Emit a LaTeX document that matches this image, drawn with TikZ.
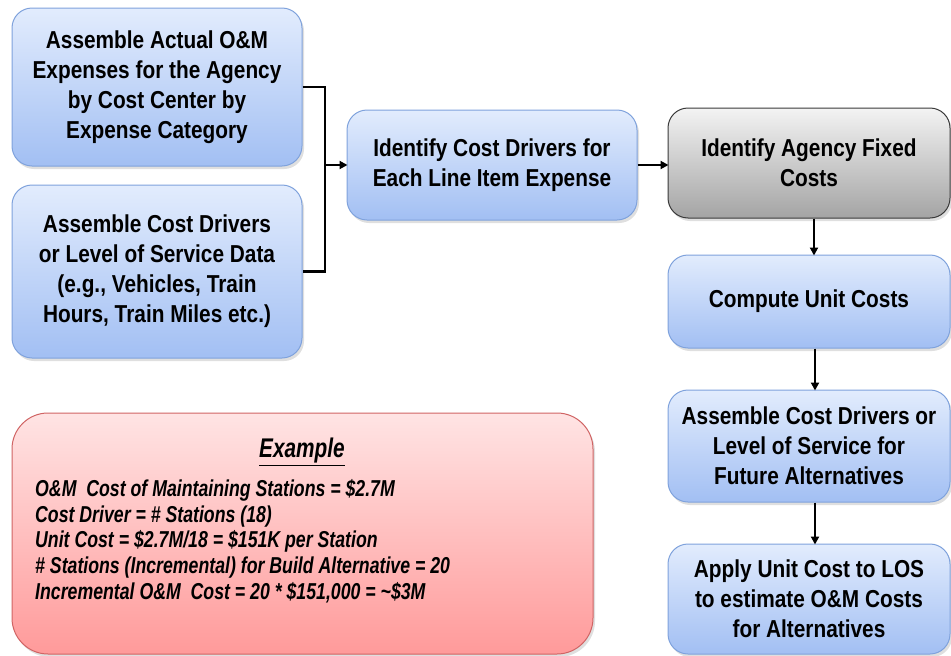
\documentclass[tikz,border=0pt]{standalone}
\usepackage{fontspec}
\setmainfont[FakeStretch=0.85]{Liberation Sans}
\newfontfamily\examplefont[FakeStretch=0.77]{Liberation Sans}
\usetikzlibrary{shadows,arrows.meta}
\definecolor{bluetop}{HTML}{E2ECFD}
\definecolor{bluebot}{HTML}{A2BFF3}
\definecolor{blueline}{HTML}{7FA2DC}
\definecolor{graytop}{HTML}{F3F3F3}
\definecolor{graybot}{HTML}{A4A4A4}
\definecolor{grayline}{HTML}{3A3A3A}
\definecolor{redtop}{HTML}{FFE4E4}
\definecolor{redbot}{HTML}{FF9A9A}
\definecolor{redline}{HTML}{D06464}
\tikzset{
  box/.style={rectangle, rounded corners=20pt, line width=1pt, align=center,
    font=\bfseries\fontsize{24.5}{30}\selectfont, inner sep=0pt,
    drop shadow={opacity=0.25, shadow xshift=2pt, shadow yshift=-3pt}},
  bluebox/.style={box, draw=blueline, top color=bluetop, bottom color=bluebot},
  graybox/.style={box, draw=grayline, top color=graytop, bottom color=graybot},
  redbox/.style={rectangle, rounded corners=36pt, line width=1pt, draw=redline,
    top color=redtop, bottom color=redbot, inner sep=0pt,
    drop shadow={opacity=0.25, shadow xshift=2pt, shadow yshift=-3pt}},
  extext/.style={font=\examplefont\bfseries\itshape\fontsize{23}{25.8}\selectfont, inner sep=0pt},
  conn/.style={line width=2.6pt, black},
  arr/.style={conn, -{Triangle[length=8pt,width=8pt]}, shorten >=-1pt},
}
\begin{document}
\begin{tikzpicture}[x=1pt,y=-1pt]
\useasboundingbox (0,0) rectangle (951,656);

% input steps
\node[bluebox, minimum width=290pt, minimum height=158pt] (A) at (157,87)
  {Assemble Actual O\&M\\Expenses for the Agency\\by Cost Center by\\Expense Category};
\node[bluebox, minimum width=290pt, minimum height=173pt] (B) at (157,271.5)
  {Assemble Cost Drivers\\or Level of Service Data\\(e.g., Vehicles, Train\\Hours, Train Miles etc.)};

% cost driver identification
\node[bluebox, minimum width=290pt, minimum height=110pt] (C) at (492,165)
  {Identify Cost Drivers for\\Each Line Item Expense};

% right-hand column
\node[graybox, minimum width=282pt, minimum height=110pt] (D) at (809,163)
  {Identify Agency Fixed\\Costs};
\node[bluebox, minimum width=282pt, minimum height=93pt] (E) at (809,301.5)
  {Compute Unit Costs};
\node[bluebox, minimum width=282pt, minimum height=112pt] (F) at (809,446)
  {Assemble Cost Drivers or\\Level of Service for\\Future Alternatives};
\node[bluebox, minimum width=282pt, minimum height=110pt] (G) at (809,599)
  {Apply Unit Cost to LOS\\to estimate O\&M Costs\\for Alternatives};

% worked example
\node[redbox, minimum width=581pt, minimum height=241pt] (R) at (302.5,533.5) {};
\node[extext, font=\examplefont\bfseries\itshape\fontsize{27}{30}\selectfont] (RT) at (302,452) {\underline{Example}};
\node[extext, align=left, anchor=north west] (RB) at (35,479)
  {O\&M\ \ Cost of Maintaining Stations = \$2.7M\\
   Cost Driver = \# Stations (18)\\
   Unit Cost = \$2.7M/18 = \$151K per Station\\
   \# Stations (Incremental) for Build Alternative = 20\\
   Incremental O\&M\ \ Cost = 20 * \$151,000 = \textasciitilde\$3M};

% connectors
\coordinate (J) at (325,165);
\draw[conn] (A.east) -| (J) |- (B.east);
\draw[arr] (J) -- (C.west);
\draw[arr] (C.east) -- (C.east -| D.west);
\draw[arr] ([xshift=5pt]D.south) -- ([xshift=5pt]D.south |- E.north);
\draw[arr] ([xshift=6pt]E.south) -- ([xshift=6pt]E.south |- F.north);
\draw[arr] ([xshift=6pt]F.south) -- ([xshift=6pt]F.south |- G.north);
\end{tikzpicture}
\end{document}
